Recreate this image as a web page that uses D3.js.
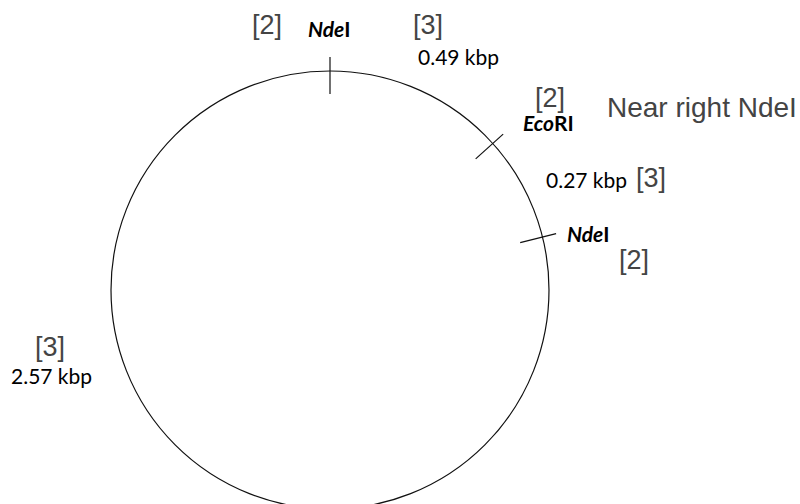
<!DOCTYPE html>
<html>
<head>
<meta charset="utf-8">
<script src="https://cdn.jsdelivr.net/npm/d3@7"></script>
<style>
  html, body { margin: 0; padding: 0; background: #fff; }
  svg { display: block; }
</style>
</head>
<body>
<svg id="chart" width="800" height="504"></svg>
<script>
// ---- data ----
const siteNames   = ["Nde", "Eco", "Nde"];          // italic part
const siteSuffix  = ["I", "RI", "I"];               // upright part
const siteAngles  = [0, 48, 76];                    // degrees clockwise from top
const siteTags    = ["[2]", "[2]", "[2]"];
const fragSizes   = ["0.49 kbp", "0.27 kbp", "2.57 kbp"];
const fragTags    = ["[3]", "[3]", "[3]"];
const noteText    = "Near right NdeI";

// ---- layout ----
const W = 800, H = 504;
const cx = 330, cy = 290, R = 219;
const tickIn = 196, tickOut = 233;

const svg = d3.select("#chart");
const ang = d3.scaleLinear().domain([0, 360]).range([0, 2 * Math.PI]);
const rad = d3.scaleLinear().domain([0, 1]).range([0, R]);

const g = svg.append("g").attr("transform", `translate(${cx},${cy})`);

g.append("circle")
  .attr("r", rad(1))
  .attr("fill", "none")
  .attr("stroke", "#111")
  .attr("stroke-width", 1.2);

g.selectAll("line.site")
  .data(siteAngles)
  .join("line")
  .attr("class", "site")
  .attr("x1", d => tickIn * Math.sin(ang(d)))
  .attr("y1", d => -tickIn * Math.cos(ang(d)))
  .attr("x2", d => tickOut * Math.sin(ang(d)))
  .attr("y2", d => -tickOut * Math.cos(ang(d)))
  .attr("stroke", "#111")
  .attr("stroke-width", 1.2);

// label placement (page coords)
const siteLabelPos = [[308, 37], [523, 131], [567, 241.5]];
const siteTagPos   = [[252, 34], [535, 107], [619, 269]];
const fragLabelPos = [[418, 65], [546, 188], [11, 384]];
const fragTagPos   = [[413, 34], [636, 187], [35, 356]];

const labFont = "Lato, 'Open Sans', sans-serif";
const tagFont = "'Liberation Sans', Arial, sans-serif";

const siteLab = svg.selectAll("text.site")
  .data(siteNames)
  .join("text")
  .attr("class", "site")
  .attr("x", (d, i) => siteLabelPos[i][0])
  .attr("y", (d, i) => siteLabelPos[i][1])
  .attr("font-family", labFont)
  .attr("font-size", 21)
  .attr("font-weight", "bold")
  .attr("fill", "#000");
siteLab.append("tspan").attr("font-style", "italic").text(d => d);
siteLab.append("tspan").text((d, i) => siteSuffix[i]);

svg.selectAll("text.stag")
  .data(siteTags)
  .join("text")
  .attr("class", "stag")
  .attr("x", (d, i) => siteTagPos[i][0])
  .attr("y", (d, i) => siteTagPos[i][1])
  .attr("font-family", tagFont)
  .attr("font-size", 27)
  .attr("fill", "#444")
  .text(d => d);

svg.selectAll("text.frag")
  .data(fragSizes)
  .join("text")
  .attr("class", "frag")
  .attr("x", (d, i) => fragLabelPos[i][0])
  .attr("y", (d, i) => fragLabelPos[i][1])
  .attr("font-family", labFont)
  .attr("font-size", 21)
  .attr("fill", "#000")
  .text(d => d);

svg.selectAll("text.ftag")
  .data(fragTags)
  .join("text")
  .attr("class", "ftag")
  .attr("x", (d, i) => fragTagPos[i][0])
  .attr("y", (d, i) => fragTagPos[i][1])
  .attr("font-family", tagFont)
  .attr("font-size", 27)
  .attr("fill", "#444")
  .text(d => d);

svg.append("text")
  .attr("x", 607)
  .attr("y", 117)
  .attr("font-family", tagFont)
  .attr("font-size", 28)
  .attr("fill", "#444")
  .text(noteText);
</script>
</body>
</html>
